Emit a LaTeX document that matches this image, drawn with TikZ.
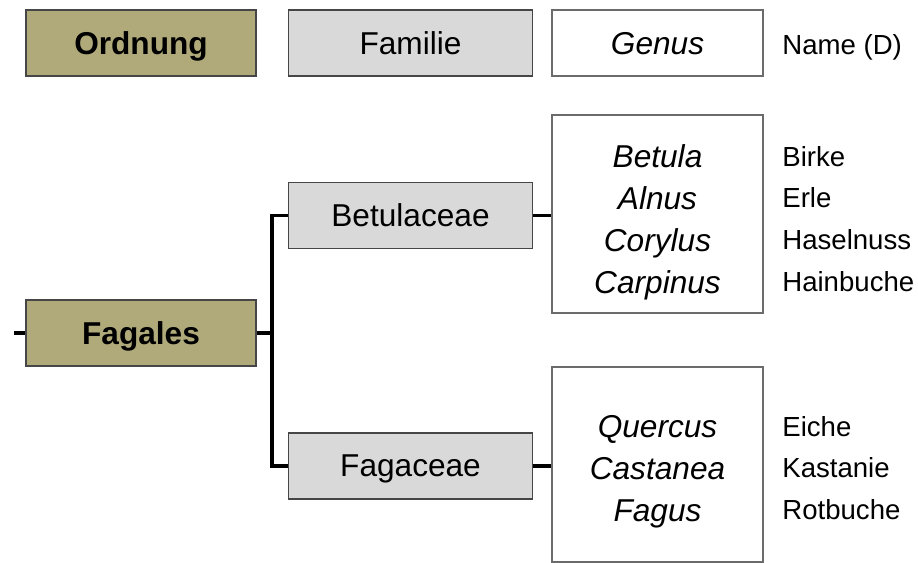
\documentclass[tikz,border=0pt]{standalone}
\usepackage{fontspec}
\setmainfont{Liberation Sans}
\usepackage{tikz}

\definecolor{olive}{RGB}{176,170,122}
\definecolor{lgray}{RGB}{217,217,217}
\definecolor{edge}{RGB}{70,70,70}

\begin{document}
\begin{tikzpicture}[x=0.02cm,y=-0.02cm]
\tikzstyle{box}=[draw=edge,line width=1.1pt,inner sep=0pt,text depth=0pt,font=\fontsize{18}{24}\selectfont]
\tikzstyle{ordbox}=[box,fill=olive,minimum width=4.6cm,minimum height=1.32cm,font=\fontsize{18}{24}\selectfont\bfseries]
\tikzstyle{fambox}=[box,fill=lgray,minimum width=4.88cm,minimum height=1.32cm]
\tikzstyle{genbox}=[box,fill=white,draw=edge!80,line width=0.9pt,minimum width=4.22cm,font=\fontsize{18}{24}\selectfont\itshape]
\tikzstyle{gentext}=[inner sep=0pt,text depth=0pt,align=center,font=\fontsize{18}{23.9}\selectfont\itshape]
\tikzstyle{namen}=[anchor=west,inner sep=0pt,text depth=0pt,align=left,font=\fontsize{15.7}{23.9}\selectfont]
\tikzstyle{conn}=[line width=1.8pt,black]
	\useasboundingbox (0,0) rectangle (918,563);

	% Legende
	\node[ordbox] (ordnung) at (141,43) {Ordnung};
	\node[fambox] (familie) at (410.5,43) {Familie};
	\node[genbox,minimum height=1.32cm] (genus) at (657.5,43) {Genus};
	\node[namen] (name) at (782,45) {Name (D)};

	% Baum
	\node[ordbox] (fagales) at (141,333) {Fagales};
	\node[fambox] (betul) at (410.5,215.5) {Betulaceae};
	\node[fambox] (fagac) at (410.5,466) {Fagaceae};

	\node[genbox,minimum height=3.96cm] (gen1) at (657.5,214) {};
	\node[genbox,minimum height=3.9cm] (gen2) at (657.5,464.5) {};
	\node[gentext] (gat1) at (657.5,219) {Betula\\Alnus\\Corylus\\Carpinus};
	\node[gentext] (gat2) at (657.5,468) {Quercus\\Castanea\\Fagus};

	\node[namen] (nam1) at (782,219) {Birke\\Erle\\Haselnuss\\Hainbuche};
	\node[namen] (nam2) at (782,468) {Eiche\\Kastanie\\Rotbuche};

	\coordinate (stub) at (14,333);
	\coordinate (split) at (272,333);

	\draw[conn] (stub) -- (fagales.west);
	\draw[conn] (fagales.east) -- (split);
	\draw[conn] (split) |- (betul.west);
	\draw[conn] (split) |- (fagac.west);
	\draw[conn] (betul.east) -- (betul.east -| gen1.west);
	\draw[conn] (fagac.east) -- (fagac.east -| gen2.west);
\end{tikzpicture}
\end{document}
